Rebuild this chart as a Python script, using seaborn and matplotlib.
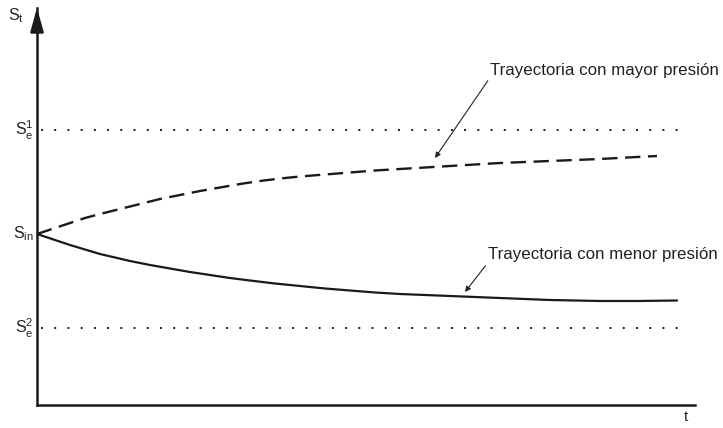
import matplotlib
matplotlib.use("Agg")
import matplotlib.pyplot as plt
import seaborn as sns
import pandas as pd

# --- datos ---
t_mayor = [0, 15, 33, 48, 63, 83, 103, 123, 143, 163, 183, 203, 223, 243, 263,
           288, 313, 338, 363, 388, 413, 438, 463, 488, 513, 538, 563, 590, 620]
s_mayor = [171, 176, 182, 187, 191, 196, 201, 206, 210, 214, 217.5, 221, 224, 226.5, 228.5,
           230.5, 232.5, 234.5, 236, 237.5, 239, 240.5, 242, 243, 244, 245, 246, 247.5, 249]

t_menor = [0, 15, 33, 48, 63, 78, 93, 113, 133, 153, 173, 193, 213, 238, 263,
           288, 313, 338, 363, 388, 413, 438, 463, 488, 513, 538, 563, 600, 640]
s_menor = [171, 166, 160, 155.5, 151, 147.5, 144, 140, 136.5, 133, 130, 127, 124.5, 121.5, 119,
           116.5, 114.5, 112.5, 111, 110, 109, 108, 107, 106, 105, 104.5, 104, 104, 104.5]

S_E1 = 275
S_IN = 171
S_E2 = 77
T_MAX = 658
S_MAX = 397

etiquetas_y = {"S$_\\mathrm{e}^{1}$": S_E1,
               "S$_\\mathrm{in}$": S_IN, "S$_\\mathrm{e}^{2}$": S_E2}

sns.set_style("white")
plt.rcParams['font.family'] = ['Liberation Sans', 'DejaVu Sans']
plt.rcParams['mathtext.fontset'] = 'custom'
plt.rcParams['mathtext.rm'] = 'Liberation Sans'
plt.rcParams['mathtext.it'] = 'Liberation Sans'

df_mayor = pd.DataFrame({"t": t_mayor, "S": s_mayor})
df_menor = pd.DataFrame({"t": t_menor, "S": s_menor})

fig = plt.figure(figsize=(7.23, 4.28), dpi=100)
ax = fig.add_axes([37 / 723, 23 / 428, 658 / 723, 397 / 428])

sns.lineplot(data=df_mayor, x="t", y="S", ax=ax, color="#1a1a1a", lw=1.7,
             estimator=None, sort=False)
ax.lines[-1].set_dashes((6.5, 3.2))
sns.lineplot(data=df_menor, x="t", y="S", ax=ax, color="#1a1a1a", lw=1.6,
             estimator=None, sort=False)

# niveles de equilibrio
for nivel in (S_E1, S_E2):
    ax.plot([4, 643], [nivel, nivel], color="#1a1a1a", lw=1.4,
            linestyle=(0, (1, 5.8)))

ax.set_xlim(0, T_MAX)
ax.set_ylim(0, S_MAX)
for lado in ["top", "right"]:
    ax.spines[lado].set_visible(False)
for lado in ["left", "bottom"]:
    ax.spines[lado].set_linewidth(1.8)
    ax.spines[lado].set_color("#1a1a1a")
ax.set_xticks([])
ax.set_yticks([])
ax.set_xlabel("")
ax.set_ylabel("")

# flecha del eje vertical
ax.annotate("", xy=(0, S_MAX + 3), xytext=(0, S_MAX - 20),
            arrowprops=dict(arrowstyle="-|>,head_length=0.9,head_width=0.25",
                            color="#1a1a1a", lw=1.8, mutation_scale=16),
            annotation_clip=False)

for txt, y in etiquetas_y.items():
    ax.text(-3, y, txt, ha="right", va="center", fontsize=11.5, color="#222222",
            clip_on=False)
ax.text(-13, 389, "S$_\\mathrm{t}$", ha="right", va="center", fontsize=11.5,
        color="#222222", clip_on=False)
ax.text(649, -12, "t", ha="center", va="center", fontsize=11, color="#222222",
        clip_on=False)

ax.annotate("Trayectoria con mayor presión", xy=(398, 247), xytext=(453, 335),
            ha="left", va="center", fontsize=12.2, color="#222222",
            arrowprops=dict(arrowstyle="-|>", color="#222222", lw=0.8,
                            mutation_scale=8, shrinkA=0, shrinkB=0,
                            relpos=(0, 0)),
            annotation_clip=False)
ax.annotate("Trayectoria con menor presión", xy=(428, 113), xytext=(451, 150),
            ha="left", va="center", fontsize=12.2, color="#222222",
            arrowprops=dict(arrowstyle="-|>", color="#222222", lw=0.8,
                            mutation_scale=8, shrinkA=0, shrinkB=0,
                            relpos=(0, 0)),
            annotation_clip=False)

fig.savefig("out.png", dpi=100)
